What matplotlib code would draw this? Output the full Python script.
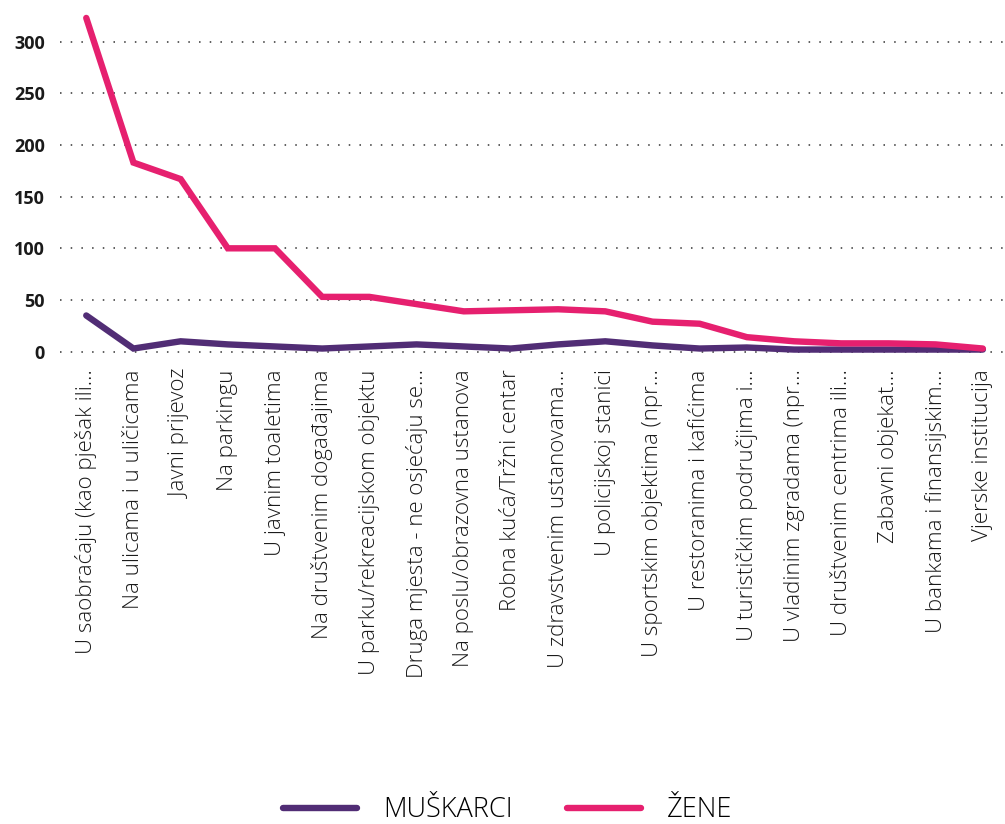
import matplotlib
matplotlib.use("Agg")
import matplotlib.pyplot as plt

plt.rcParams['font.family'] = ['Open Sans', 'DejaVu Sans']

# categories (labels already truncated in the source chart)
categories = [
    'U saobraćaju (kao pješak ili…',
    'Na ulicama i u uličicama',
    'Javni prijevoz',
    'Na parkingu',
    'U javnim toaletima',
    'Na društvenim događajima',
    'U parku/rekreacijskom objektu',
    'Druga mjesta - ne osjećaju se…',
    'Na poslu/obrazovna ustanova',
    'Robna kuća/Tržni centar',
    'U zdravstvenim ustanovama…',
    'U policijskoj stanici',
    'U sportskim objektima (npr…',
    'U restoranima i kafićima',
    'U turističkim područjima i…',
    'U vladinim zgradama (npr…',
    'U društvenim centrima ili…',
    'Zabavni objekat…',
    'U bankama i finansijskim…',
    'Vjerske institucija',
]

muskarci = [35, 3, 10, 7, 5, 3, 5, 7, 5, 3, 7, 10, 6, 3, 4, 2, 2, 2, 2, 2]
zene = [323, 183, 167, 100, 100, 53, 53, 46, 39, 40, 41, 39, 29, 27, 14, 10, 8, 8, 7, 3]

c_men = '#512d75'
c_women = '#e6206f'

fig = plt.figure(figsize=(10.05, 8.24), dpi=100)
ax = fig.add_axes([0.06, 0.567, 0.94, 0.42])

x = list(range(len(categories)))
ax.plot(x, muskarci, color=c_men, lw=4.6, solid_capstyle='round', solid_joinstyle='miter', label='MUŠKARCI', zorder=3)
ax.plot(x, zene, color=c_women, lw=4.6, solid_capstyle='round', solid_joinstyle='miter', label='ŽENE', zorder=3)

ax.set_xlim(-0.55, len(categories) - 0.53)
ax.set_ylim(-5, 330)
ax.set_yticks([0, 50, 100, 150, 200, 250, 300])
ax.yaxis.grid(True, color='#333333', linestyle=(0, (1, 6)), lw=1.1)
ax.set_axisbelow(True)
for s in ax.spines.values():
    s.set_visible(False)
ax.tick_params(axis='both', length=0)
ax.tick_params(axis='y', pad=11)
for t in ax.get_yticklabels():
    t.set_fontweight('bold')
    t.set_fontsize(13)
    t.set_color('#1a1a1a')

ax.set_xticks(x)
ax.set_xticklabels(categories, rotation=90, fontsize=16, fontweight='light',
                   color='#1a1a1a', va='top', ha='center')
ax.tick_params(axis='x', pad=9)

fig.legend(loc='center', bbox_to_anchor=(0.505, 0.017), ncol=2, frameon=False,
           handlelength=2.75, columnspacing=2.0, handletextpad=0.95,
           prop={'size': 19.5, 'weight': 'light'})

fig.savefig('out.png', dpi=100)
